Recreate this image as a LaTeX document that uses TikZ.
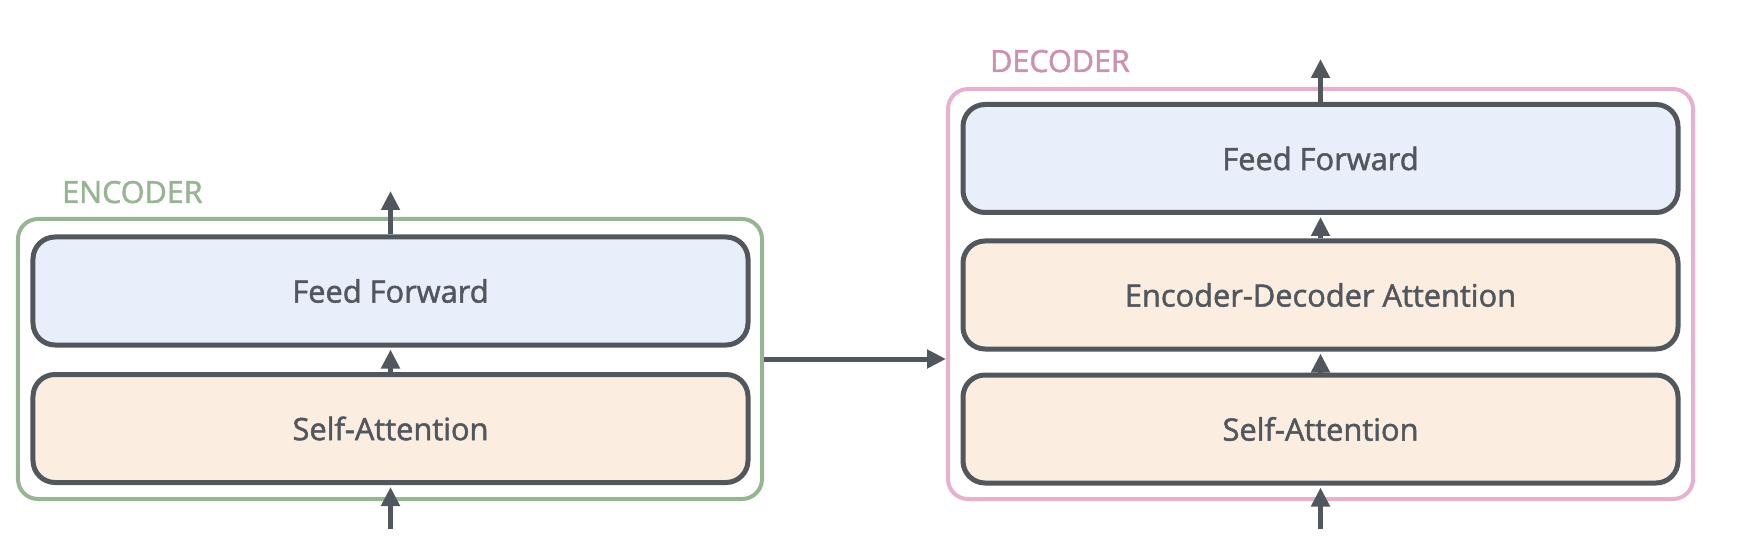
\documentclass[tikz,border=0pt]{standalone}
\usepackage{fontspec}
\setmainfont{Open Sans}
\newfontfamily\semiface{Open Sans}[FakeBold=1.6]
\usetikzlibrary{arrows.meta}
\definecolor{ink}{HTML}{52575E}
\definecolor{ffblue}{HTML}{E8EFFA}
\definecolor{attorange}{HTML}{FBEEE0}
\definecolor{encgreen}{HTML}{97B593}
\definecolor{decpink}{HTML}{E8B0CF}
\definecolor{decpinktext}{HTML}{CC90B1}
\begin{document}
\begin{tikzpicture}[x=1bp,y=-1bp,
  layer/.style={draw=ink, line width=5bp, rounded corners=22bp,
    minimum width=715bp, minimum height=108bp, inner sep=0pt,
    font=\semiface\fontsize{30.8bp}{36bp}\selectfont, text=ink},
  ffbox/.style={layer, fill=ffblue},
  attbox/.style={layer, fill=attorange},
  frame/.style={line width=4bp, rounded corners=20bp, inner sep=0pt},
  flow/.style={draw=ink, line width=5bp, -{Triangle[length=19bp,width=18bp]}},
  tag/.style={anchor=base west, inner sep=0pt, font=\semiface\fontsize{30.5bp}{34bp}\selectfont}
]
\useasboundingbox (0,0) rectangle (1760,546);

% frames
\node[frame, draw=encgreen, minimum width=744bp, minimum height=280bp] (enc) at (390,359) {};
\node[frame, draw=decpink, minimum width=745bp, minimum height=410bp] (dec) at (1320.5,294) {};

% labels
\node[tag, text=encgreen] (enclabel) at (62,203) {ENCODER};
\node[tag, text=decpinktext] (declabel) at (990,72) {DECODER};

% encoder layers
\node[ffbox] (encff) at (390.5,291) {Feed Forward};
\node[attbox] (encsa) at (390.5,428.5) {Self-Attention};

% decoder layers
\node[ffbox] (decff) at (1320.5,158.5) {Feed Forward};
\node[attbox] (deceda) at (1320.5,295) {Encoder-Decoder Attention};
\node[attbox] (decsa) at (1320.5,429) {Self-Attention};

% free ends
\coordinate (encin) at (390.5,529);
\coordinate (encout) at (390.5,191);
\coordinate (decin) at (1320.5,529);
\coordinate (decout) at (1320.5,59);

% flows
\draw[flow, shorten >=2bp] (encin) -- (encsa.south);
\draw[flow, shorten >=2bp] (encsa.north) -- (encff.south);
\draw[flow] (encff.north) -- (encout);
\draw[flow, shorten >=2bp] (decin) -- (decsa.south);
\draw[flow, shorten >=2bp] (decsa.north) -- (deceda.south);
\draw[flow, shorten >=2bp] (deceda.north) -- (decff.south);
\draw[flow] (decff.north) -- (decout);
\draw[flow] (enc.east) -- (enc.east -| dec.west);
\end{tikzpicture}
\end{document}
